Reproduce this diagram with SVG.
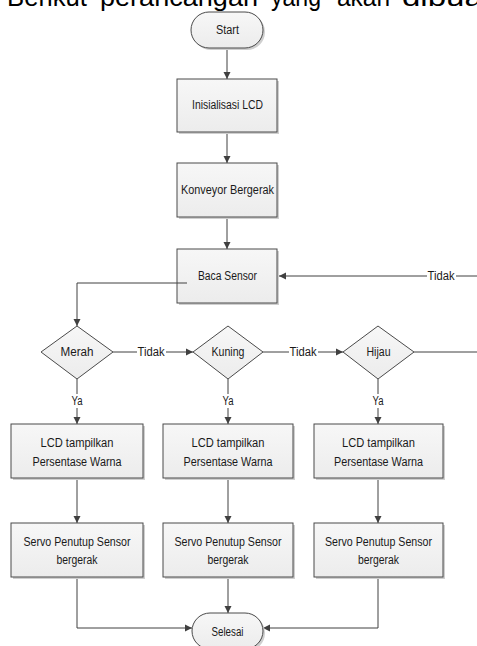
<svg xmlns="http://www.w3.org/2000/svg" width="477" height="646" viewBox="0 0 477 646">
<defs>
<marker id="ah" markerWidth="8" markerHeight="8" refX="7" refY="4" orient="auto" markerUnits="userSpaceOnUse">
<path d="M0,0.5 L7,4 L0,7.5 Z" fill="#404040"/>
</marker>
<linearGradient id="g" x1="0" y1="0" x2="0" y2="1">
<stop offset="0" stop-color="#f7f7f7"/>
<stop offset="1" stop-color="#ececec"/>
</linearGradient>
</defs>
<style>
.n{fill:url(#g);stroke:#4a4a4a;stroke-width:1}
.sh{fill:#cfcfcf;stroke:none}
.t{font-family:"Liberation Sans",Arial,sans-serif;font-size:12.5px;fill:#1a1a1a;text-anchor:middle;dominant-baseline:central}
.c{fill:none;stroke:#404040;stroke-width:1}
.a{marker-end:url(#ah)}
.hd{font-family:"Liberation Sans",Arial,sans-serif;font-size:25px;fill:#000}
</style>
<rect width="477" height="646" fill="#fff"/>
<g id="heading">
<text class="hd" x="7" y="6" textLength="80" lengthAdjust="spacingAndGlyphs">Berikut</text>
<text class="hd" x="100" y="6" textLength="158" lengthAdjust="spacingAndGlyphs">perancangan</text>
<text class="hd" x="271" y="6" textLength="50" lengthAdjust="spacingAndGlyphs">yang</text>
<text class="hd" x="337" y="6" textLength="53" lengthAdjust="spacingAndGlyphs">akan</text>
<text class="hd" x="402" y="6" textLength="90" lengthAdjust="spacingAndGlyphs">dibuat</text>
</g>
<g id="connectors">
<line class="c a" x1="227" y1="48" x2="227" y2="79"/>
<line class="c a" x1="227" y1="132" x2="227" y2="163"/>
<line class="c a" x1="227" y1="217" x2="227" y2="249"/>
<polyline class="c a" points="477,276 279,276"/>
<polyline class="c a" points="187,283 77,283 77,326"/>
<line class="c a" x1="113" y1="352" x2="193" y2="352"/>
<line class="c a" x1="263" y1="352" x2="343" y2="352"/>
<line class="c" x1="414" y1="352" x2="477" y2="352"/>
<line class="c a" x1="77" y1="379" x2="77" y2="424"/>
<line class="c a" x1="228" y1="379" x2="228" y2="424"/>
<line class="c a" x1="378" y1="379" x2="378" y2="424"/>
<line class="c a" x1="77" y1="478" x2="77" y2="523"/>
<line class="c a" x1="228" y1="478" x2="228" y2="523"/>
<line class="c a" x1="378" y1="478" x2="378" y2="523"/>
<polyline class="c a" points="77,577 77,628 192,628"/>
<line class="c a" x1="228" y1="577" x2="228" y2="613"/>
<polyline class="c a" points="378,577 378,628 263,628"/>
<rect x="427" y="269" width="29" height="14" fill="#fff"/>
<text class="t" x="441" y="276" textLength="27" lengthAdjust="spacingAndGlyphs">Tidak</text>
<rect x="137" y="345" width="29" height="14" fill="#fff"/>
<text class="t" x="151" y="352" textLength="27" lengthAdjust="spacingAndGlyphs">Tidak</text>
<rect x="289" y="345" width="29" height="14" fill="#fff"/>
<text class="t" x="303" y="352" textLength="27" lengthAdjust="spacingAndGlyphs">Tidak</text>
<rect x="70" y="394" width="14" height="14" fill="#fff"/>
<text class="t" x="77" y="401" textLength="11" lengthAdjust="spacingAndGlyphs">Ya</text>
<rect x="221" y="394" width="14" height="14" fill="#fff"/>
<text class="t" x="228" y="401" textLength="11" lengthAdjust="spacingAndGlyphs">Ya</text>
<rect x="371" y="394" width="14" height="14" fill="#fff"/>
<text class="t" x="378" y="401" textLength="11" lengthAdjust="spacingAndGlyphs">Ya</text>
</g>
<g id="start">
<rect class="sh" x="193" y="14" width="72" height="36" rx="18"/>
<rect class="n" x="191" y="12" width="72" height="36" rx="18"/>
<text class="t" x="227.5" y="30" textLength="23" lengthAdjust="spacingAndGlyphs">Start</text>
</g>
<g id="init">
<rect class="sh" x="179" y="81" width="100" height="53"/>
<rect class="n" x="177" y="79" width="100" height="53"/>
<text class="t" x="227.5" y="105" textLength="71" lengthAdjust="spacingAndGlyphs">Inisialisasi LCD</text>
</g>
<g id="konveyor">
<rect class="sh" x="179" y="165" width="100" height="54"/>
<rect class="n" x="177" y="163" width="100" height="54"/>
<text class="t" x="227.5" y="190" textLength="93" lengthAdjust="spacingAndGlyphs">Konveyor Bergerak</text>
</g>
<g id="baca">
<rect class="sh" x="179" y="251" width="100" height="54"/>
<rect class="n" x="177" y="249" width="100" height="54"/>
<text class="t" x="227.5" y="276" textLength="59" lengthAdjust="spacingAndGlyphs">Baca Sensor</text>
<line class="c" x1="177" y1="283" x2="187" y2="283"/>
</g>
<g id="merah">
<polygon class="n" points="41,352 77,326 113,352 77,379"/>
<text class="t" x="77" y="352" textLength="33" lengthAdjust="spacingAndGlyphs">Merah</text>
</g>
<g id="kuning">
<polygon class="n" points="193,352 228,326 263,352 228,379"/>
<text class="t" x="228" y="352" textLength="33" lengthAdjust="spacingAndGlyphs">Kuning</text>
</g>
<g id="hijau">
<polygon class="n" points="343,352 378,326 414,352 378,379"/>
<text class="t" x="378.5" y="352" textLength="24" lengthAdjust="spacingAndGlyphs">Hijau</text>
</g>
<g id="lcd1">
<rect class="sh" x="13" y="426" width="132" height="54"/>
<rect class="n" x="11" y="424" width="132" height="54"/>
<text class="t" x="77" y="443" textLength="73" lengthAdjust="spacingAndGlyphs">LCD tampilkan</text>
<text class="t" x="77" y="462" textLength="89" lengthAdjust="spacingAndGlyphs">Persentase Warna</text>
</g>
<g id="lcd2">
<rect class="sh" x="165" y="426" width="130" height="54"/>
<rect class="n" x="163" y="424" width="130" height="54"/>
<text class="t" x="228" y="443" textLength="73" lengthAdjust="spacingAndGlyphs">LCD tampilkan</text>
<text class="t" x="228" y="462" textLength="89" lengthAdjust="spacingAndGlyphs">Persentase Warna</text>
</g>
<g id="lcd3">
<rect class="sh" x="316" y="426" width="129" height="54"/>
<rect class="n" x="314" y="424" width="129" height="54"/>
<text class="t" x="378.5" y="443" textLength="73" lengthAdjust="spacingAndGlyphs">LCD tampilkan</text>
<text class="t" x="378.5" y="462" textLength="89" lengthAdjust="spacingAndGlyphs">Persentase Warna</text>
</g>
<g id="servo1">
<rect class="sh" x="13" y="525" width="132" height="54"/>
<rect class="n" x="11" y="523" width="132" height="54"/>
<text class="t" x="77" y="542" textLength="107" lengthAdjust="spacingAndGlyphs">Servo Penutup Sensor</text>
<text class="t" x="77" y="560" textLength="41" lengthAdjust="spacingAndGlyphs">bergerak</text>
</g>
<g id="servo2">
<rect class="sh" x="165" y="525" width="130" height="54"/>
<rect class="n" x="163" y="523" width="130" height="54"/>
<text class="t" x="228" y="542" textLength="107" lengthAdjust="spacingAndGlyphs">Servo Penutup Sensor</text>
<text class="t" x="228" y="560" textLength="41" lengthAdjust="spacingAndGlyphs">bergerak</text>
</g>
<g id="servo3">
<rect class="sh" x="316" y="525" width="129" height="54"/>
<rect class="n" x="314" y="523" width="129" height="54"/>
<text class="t" x="378.5" y="542" textLength="107" lengthAdjust="spacingAndGlyphs">Servo Penutup Sensor</text>
<text class="t" x="378.5" y="560" textLength="41" lengthAdjust="spacingAndGlyphs">bergerak</text>
</g>
<g id="selesai">
<rect class="sh" x="194" y="615" width="71" height="36" rx="18"/>
<rect class="n" x="192" y="613" width="71" height="36" rx="18"/>
<text class="t" x="227.5" y="632" textLength="32" lengthAdjust="spacingAndGlyphs">Selesai</text>
</g>
</svg>
